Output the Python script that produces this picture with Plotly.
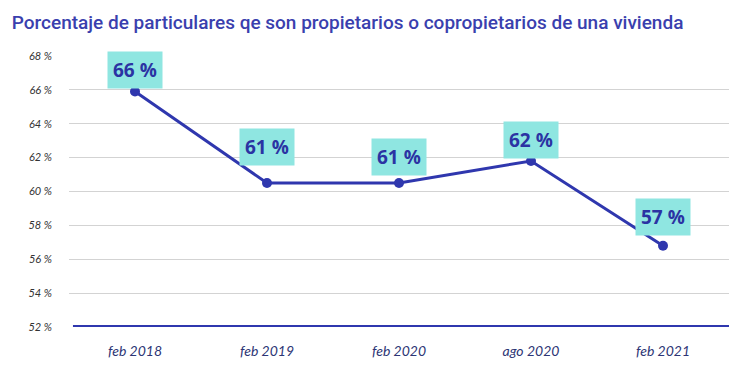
import plotly.graph_objects as go

categories = ["feb 2018", "feb 2019", "feb 2020", "ago 2020", "feb 2021"]
values = [65.9, 60.5, 60.5, 61.8, 56.8]
labels = ["66 %", "61 %", "61 %", "62 %", "57 %"]
y_ticks = [52, 54, 56, 58, 60, 62, 64, 66, 68]
y_tick_text = [f"{v} %" for v in y_ticks]
label_shift = [22, 36, 26, 21, 29]

BLUE = "#2F37AE"
CYAN = "#8FE6E1"

fig = go.Figure()
fig.add_trace(go.Scatter(
    x=categories, y=values, mode="lines+markers",
    line=dict(color=BLUE, width=3),
    marker=dict(color=BLUE, size=10),
    hoverinfo="skip", showlegend=False,
))

for c, v, t, s in zip(categories, values, labels, label_shift):
    fig.add_annotation(
        x=c, y=v, text=f"<b>{t}</b>", showarrow=False, yshift=s,
        font=dict(family="Open Sans", size=19, color="#2B33A3"),
        bgcolor=CYAN, borderpad=5,
    )

fig.update_layout(
    width=748, height=390,
    margin=dict(l=61, r=27, t=48, b=71, autoexpand=False),
    paper_bgcolor="white", plot_bgcolor="white",
    title=dict(
        text="Porcentaje de particulares qe son propietarios o copropietarios de una vivienda",
        x=0.005, xanchor="left", y=0.964, yanchor="middle",
        font=dict(family="Roboto", size=19, color="#3A3FAE", weight=500),
    ),
    xaxis=dict(
        type="category", range=[-0.5, 4.5], automargin=False,
        showgrid=False, zeroline=False, showline=False,
        ticks="", tickfont=dict(family="Lato", size=14, color="#2D3575", style="italic"),
        ticklabelstandoff=14,
    ),
    yaxis=dict(
        range=[52, 68], tickvals=y_ticks, ticktext=y_tick_text, automargin=False,
        showgrid=True, gridcolor="#D3D3D3", gridwidth=1,
        zeroline=False, showline=False, ticks="",
        tickfont=dict(family="Lato", size=11, color="#333333", style="italic"),
        ticklabelstandoff=16,
    ),
    shapes=[dict(type="line", xref="paper", yref="y", x0=0.006, x1=1.0, y0=52, y1=52,
                 line=dict(color=BLUE, width=4))],
)

fig.write_html("out.html")
